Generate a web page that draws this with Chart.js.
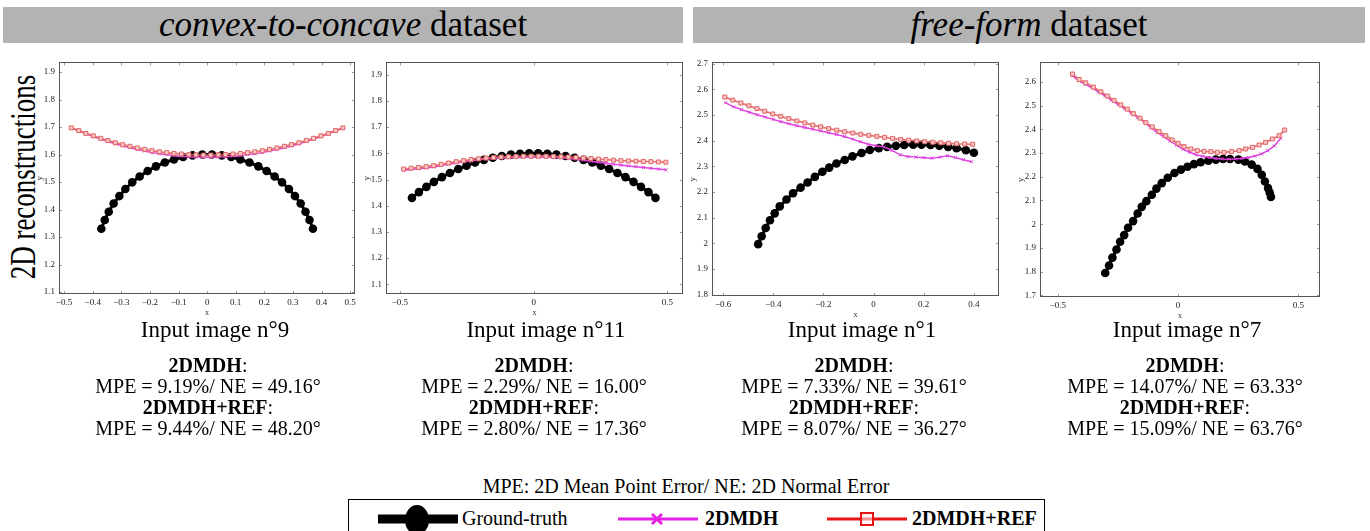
<!DOCTYPE html>
<html>
<head>
<meta charset="utf-8">
<script src="https://cdn.jsdelivr.net/npm/chart.js@4.4.1/dist/chart.umd.min.js"></script>
<style>
  html, body { margin:0; padding:0; background:#fff; }
  body { width:1370px; height:531px; position:relative; overflow:hidden; font-family:'Liberation Serif','Times New Roman',serif; color:#000; }
  .bar { position:absolute; background:#b3b3b3; }
  .t { position:absolute; text-align:center; white-space:nowrap; }
  canvas { position:absolute; }
</style>
</head>
<body>
<script>
// ---------------- DATA ----------------
// Panel 1: convex-to-concave, input image n°9
const p1TruthX = [-0.370,-0.358,-0.344,-0.327,-0.307,-0.286,-0.262,-0.236,-0.208,-0.179,-0.148,-0.116,-0.084,-0.051,-0.017,0.017,0.051,0.084,0.116,0.148,0.179,0.208,0.236,0.262,0.286,0.307,0.327,0.344,0.358,0.370];
const p1TruthY = [1.330,1.362,1.392,1.422,1.449,1.475,1.499,1.520,1.540,1.557,1.571,1.582,1.591,1.597,1.600,1.600,1.597,1.591,1.582,1.571,1.557,1.540,1.520,1.499,1.475,1.449,1.422,1.392,1.362,1.330];
const p1RecX = [-0.475,-0.449,-0.424,-0.398,-0.372,-0.347,-0.321,-0.295,-0.270,-0.244,-0.218,-0.193,-0.167,-0.141,-0.116,-0.090,-0.064,-0.039,-0.013,0.013,0.039,0.064,0.090,0.116,0.141,0.167,0.193,0.218,0.244,0.270,0.295,0.321,0.347,0.372,0.398,0.424,0.449,0.475];
const p1RefY = [1.697,1.687,1.677,1.668,1.659,1.651,1.643,1.636,1.630,1.624,1.619,1.614,1.610,1.607,1.604,1.602,1.600,1.599,1.598,1.598,1.599,1.600,1.602,1.604,1.607,1.610,1.614,1.619,1.624,1.630,1.636,1.643,1.651,1.659,1.668,1.677,1.687,1.697];
const p1DmdhY = [1.696,1.686,1.675,1.665,1.656,1.647,1.639,1.631,1.625,1.618,1.613,1.607,1.603,1.600,1.596,1.594,1.592,1.591,1.590,1.590,1.591,1.592,1.594,1.596,1.600,1.603,1.607,1.613,1.618,1.625,1.631,1.639,1.647,1.656,1.665,1.675,1.686,1.696];
const p1XTicks = [-0.5,-0.4,-0.3,-0.2,-0.1,0,0.1,0.2,0.3,0.4,0.5];
const p1XLabels = ['\u22120.5','\u22120.4','\u22120.3','\u22120.2','\u22120.1','0','0.1','0.2','0.3','0.4','0.5'];
const p1YTicks = [1.1,1.2,1.3,1.4,1.5,1.6,1.7,1.8,1.9];
const p1YLabels = ['1.1','1.2','1.3','1.4','1.5','1.6','1.7','1.8','1.9'];

// Panel 2: convex-to-concave, input image n°11
const p2TruthX = [-0.455,-0.429,-0.401,-0.373,-0.343,-0.313,-0.282,-0.251,-0.219,-0.186,-0.153,-0.119,-0.085,-0.051,-0.017,0.017,0.051,0.085,0.119,0.153,0.186,0.219,0.251,0.282,0.313,0.343,0.373,0.401,0.429,0.455];
const p2TruthY = [1.430,1.452,1.472,1.491,1.509,1.525,1.540,1.553,1.565,1.575,1.583,1.590,1.595,1.598,1.600,1.600,1.598,1.595,1.590,1.583,1.575,1.565,1.553,1.540,1.525,1.509,1.491,1.472,1.452,1.430];
const p2RecX = [-0.486,-0.458,-0.430,-0.402,-0.374,-0.346,-0.318,-0.290,-0.262,-0.234,-0.206,-0.178,-0.150,-0.122,-0.094,-0.066,-0.038,-0.010,0.018,0.046,0.074,0.102,0.130,0.158,0.186,0.214,0.242,0.270,0.298,0.326,0.354,0.382,0.410,0.438,0.466,0.494];
const p2RefY = [1.540,1.543,1.546,1.549,1.553,1.558,1.563,1.568,1.572,1.576,1.579,1.582,1.584,1.586,1.587,1.588,1.589,1.589,1.589,1.589,1.588,1.587,1.586,1.584,1.582,1.580,1.578,1.576,1.574,1.572,1.571,1.570,1.569,1.568,1.567,1.566];
const p2DmdhY = [1.535,1.538,1.541,1.544,1.548,1.553,1.558,1.563,1.568,1.572,1.575,1.578,1.580,1.582,1.583,1.584,1.585,1.585,1.585,1.585,1.584,1.583,1.580,1.577,1.574,1.570,1.566,1.562,1.558,1.555,1.552,1.549,1.546,1.543,1.540,1.537];
const p2XTicks = [-0.5,0,0.5];
const p2XLabels = ['\u22120.5','0','0.5'];
const p2YTicks = [1.1,1.2,1.3,1.4,1.5,1.6,1.7,1.8,1.9];
const p2YLabels = ['1.1','1.2','1.3','1.4','1.5','1.6','1.7','1.8','1.9'];

// Panel 3: free-form, input image n°1
const p3TruthX = [-0.460,-0.446,-0.430,-0.413,-0.394,-0.374,-0.347,-0.321,-0.291,-0.263,-0.234,-0.204,-0.177,-0.148,-0.115,-0.084,-0.048,-0.015,0.021,0.054,0.089,0.122,0.158,0.191,0.227,0.262,0.297,0.331,0.368,0.400];
const p3TruthY = [1.997,2.028,2.060,2.090,2.117,2.144,2.171,2.195,2.217,2.237,2.259,2.279,2.295,2.311,2.325,2.339,2.352,2.364,2.371,2.376,2.380,2.383,2.384,2.384,2.383,2.380,2.376,2.371,2.363,2.353];
const p3RefX = [-0.593,-0.561,-0.529,-0.497,-0.465,-0.434,-0.402,-0.370,-0.338,-0.306,-0.274,-0.242,-0.211,-0.179,-0.147,-0.115,-0.083,-0.051,-0.019,0.013,0.044,0.076,0.108,0.140,0.172,0.204,0.236,0.268,0.299,0.331,0.363,0.395];
const p3RefY = [2.570,2.558,2.547,2.536,2.525,2.515,2.504,2.495,2.486,2.477,2.469,2.461,2.454,2.447,2.441,2.435,2.430,2.425,2.421,2.417,2.413,2.409,2.405,2.402,2.399,2.396,2.394,2.392,2.390,2.388,2.387,2.386];
const p3DmdhX = [-0.590,-0.558,-0.527,-0.495,-0.464,-0.432,-0.400,-0.369,-0.337,-0.306,-0.274,-0.242,-0.211,-0.179,-0.148,-0.116,-0.084,-0.053,-0.021,0.011,0.042,0.074,0.106,0.137,0.169,0.200,0.232,0.264,0.295,0.327,0.358,0.390];
const p3DmdhY = [2.548,2.532,2.521,2.511,2.501,2.492,2.483,2.474,2.466,2.458,2.451,2.445,2.438,2.431,2.424,2.416,2.406,2.396,2.386,2.380,2.376,2.362,2.345,2.338,2.336,2.334,2.332,2.336,2.341,2.334,2.326,2.318];
const p3XTicks = [-0.6,-0.4,-0.2,0,0.2,0.4];
const p3XLabels = ['\u22120.6','\u22120.4','\u22120.2','0','0.2','0.4'];
const p3YTicks = [1.8,1.9,2.0,2.1,2.2,2.3,2.4,2.5,2.6,2.7];
const p3YLabels = ['1.8','1.9','2','2.1','2.2','2.3','2.4','2.5','2.6','2.7'];

// Panel 4: free-form, input image n°7
const p4TruthX = [-0.303,-0.287,-0.273,-0.256,-0.241,-0.224,-0.208,-0.187,-0.168,-0.151,-0.132,-0.109,-0.090,-0.068,-0.043,-0.015,0.012,0.039,0.066,0.094,0.126,0.157,0.187,0.216,0.251,0.278,0.306,0.330,0.348,0.361,0.374,0.381,0.386];
const p4TruthY = [1.794,1.826,1.859,1.893,1.926,1.954,1.985,2.013,2.045,2.073,2.097,2.124,2.150,2.173,2.196,2.216,2.230,2.242,2.253,2.261,2.268,2.272,2.275,2.275,2.272,2.264,2.251,2.233,2.208,2.180,2.152,2.133,2.115];
const p4RefX = [-0.439,-0.411,-0.384,-0.352,-0.321,-0.294,-0.266,-0.238,-0.211,-0.186,-0.158,-0.134,-0.107,-0.079,-0.051,-0.024,0.000,0.025,0.053,0.080,0.108,0.136,0.163,0.191,0.222,0.254,0.281,0.309,0.337,0.364,0.392,0.420,0.443];
const p4RefY = [2.633,2.610,2.596,2.578,2.558,2.540,2.522,2.503,2.485,2.466,2.447,2.428,2.410,2.391,2.373,2.355,2.341,2.327,2.317,2.310,2.307,2.306,2.303,2.303,2.306,2.310,2.317,2.324,2.334,2.345,2.359,2.373,2.397];
const p4DmdhX = [-0.439,-0.412,-0.385,-0.358,-0.331,-0.304,-0.277,-0.250,-0.222,-0.195,-0.168,-0.141,-0.114,-0.087,-0.060,-0.033,-0.006,0.021,0.048,0.075,0.102,0.130,0.157,0.184,0.211,0.238,0.265,0.292,0.319,0.346,0.373,0.400,0.427];
const p4DmdhY = [2.625,2.604,2.590,2.575,2.558,2.541,2.523,2.505,2.487,2.469,2.450,2.432,2.407,2.387,2.369,2.350,2.333,2.316,2.303,2.293,2.286,2.281,2.277,2.275,2.274,2.275,2.277,2.281,2.287,2.296,2.310,2.330,2.362];
const p4XTicks = [-0.5,0,0.5];
const p4XLabels = ['\u22120.5','0','0.5'];
const p4YTicks = [1.7,1.8,1.9,2.0,2.1,2.2,2.3,2.4,2.5,2.6];
const p4YLabels = ['1.7','1.8','1.9','2','2.1','2.2','2.3','2.4','2.5','2.6'];

const seriesNames = ['Ground-truth', '2DMDH', '2DMDH+REF'];
const datasetTitles = ['convex-to-concave', 'free-form'];
const imageNames = ['Input image n\u00b09', 'Input image n\u00b011', 'Input image n\u00b01', 'Input image n\u00b07'];
const dmdhMPE = ['9.19%', '2.29%', '7.33%', '14.07%'];
const dmdhNE  = ['49.16\u00b0', '16.00\u00b0', '39.61\u00b0', '63.33\u00b0'];
const refMPE  = ['9.44%', '2.80%', '8.07%', '15.09%'];
const refNE   = ['48.20\u00b0', '17.36\u00b0', '36.27\u00b0', '63.76\u00b0'];

// ---------------- STYLE / LAYOUT ----------------
const FONT = "'Liberation Serif','Times New Roman',serif";
const pts = (xs, ys) => xs.map((x, i) => ({x, y: ys[i]}));

const boxTicks = {
  id: 'boxTicks',
  afterDatasetsDraw(chart) {
    const {ctx, chartArea: a, scales: {x, y}} = chart;
    ctx.save();
    ctx.strokeStyle = '#9a9a9a';
    ctx.lineWidth = 1;
    ctx.beginPath();
    x.ticks.forEach(t => {
      const px = Math.round(x.getPixelForValue(t.value)) + 0.5;
      ctx.moveTo(px, a.bottom); ctx.lineTo(px, a.bottom - 3);
      ctx.moveTo(px, a.top); ctx.lineTo(px, a.top + 3);
    });
    y.ticks.forEach(t => {
      const py = Math.round(y.getPixelForValue(t.value)) + 0.5;
      ctx.moveTo(a.left, py); ctx.lineTo(a.left + 3, py);
      ctx.moveTo(a.right, py); ctx.lineTo(a.right - 3, py);
    });
    ctx.stroke();
    ctx.strokeStyle = '#555';
    ctx.strokeRect(Math.round(a.left) + 0.5, Math.round(a.top) + 0.5, Math.round(a.width) - 1, Math.round(a.height) - 1);
    ctx.restore();
  }
};

function makePanel(geo, xr, yr, xt, xl, yt, yl, truth, dmdh, ref) {
  const YW = 28, XH = 24, PT = 8, PR = 10;
  const c = document.createElement('canvas');
  const w = (geo.R - geo.L) + YW + PR;
  const h = (geo.B - geo.T) + PT + XH;
  c.width = w; c.height = h;
  c.style.left = (geo.L - YW) + 'px';
  c.style.top = (geo.T - PT) + 'px';
  c.style.width = w + 'px'; c.style.height = h + 'px';
  document.body.appendChild(c);
  const tickFont = {family: FONT, size: 9};
  new Chart(c, {
    type: 'scatter',
    data: {
      datasets: [
        { label: seriesNames[2], data: ref, showLine: true, borderColor: 'rgba(228,95,95,0.85)', borderWidth: 1.8,
          pointStyle: 'rect', pointRadius: 2.8, pointBorderColor: 'rgb(226,100,100)', pointBackgroundColor: 'rgb(250,200,200)', pointBorderWidth: 1 },
        { label: seriesNames[1], data: dmdh, showLine: true, borderColor: 'rgb(226,70,226)', borderWidth: 1.5,
          pointStyle: 'crossRot', pointRadius: 2.2, pointBorderColor: 'rgb(215,60,215)', pointBorderWidth: 1 },
        { label: seriesNames[0], data: truth, showLine: true, borderColor: '#000', borderWidth: 3,
          pointStyle: 'circle', pointRadius: 4.3, pointBackgroundColor: '#000', pointBorderColor: '#000', pointBorderWidth: 0 }
      ]
    },
    options: {
      responsive: false, animation: false, devicePixelRatio: 1,
      layout: { padding: { top: PT, right: PR, left: 0, bottom: 0 } },
      plugins: { legend: { display: false }, tooltip: { enabled: false } },
      elements: { line: { tension: 0 } },
      scales: {
        x: {
          type: 'linear', min: xr[0], max: xr[1],
          afterBuildTicks: s => { s.ticks = xt.map(v => ({value: v})); },
          afterFit: s => { s.height = XH; },
          ticks: { callback: (v, i) => xl[i], font: tickFont, color: '#222', padding: 3, maxRotation: 0, autoSkip: false },
          grid: { display: false, drawTicks: false }, border: { display: false },
          title: { display: true, text: 'x', font: {family: FONT, size: 8}, color: '#333', padding: {top: 0, bottom: 0} }
        },
        y: {
          type: 'linear', min: yr[0], max: yr[1],
          afterBuildTicks: s => { s.ticks = yt.map(v => ({value: v})); },
          afterFit: s => { s.width = YW; },
          ticks: { callback: (v, i) => yl[i], font: tickFont, color: '#222', padding: 4, autoSkip: false },
          grid: { display: false, drawTicks: false }, border: { display: false },
          title: { display: true, text: 'y', font: {family: FONT, size: 9}, color: '#333', padding: {top: 3, bottom: 0} }
        }
      }
    },
    plugins: [boxTicks]
  });
}

function addDiv(cls, styleObj, html) {
  const d = document.createElement('div');
  d.className = cls;
  Object.assign(d.style, styleObj);
  d.innerHTML = html;
  document.body.appendChild(d);
  return d;
}

// header bars
addDiv('bar', {left:'3px', top:'7px', width:'680px', height:'36px'}, '');
addDiv('bar', {left:'693px', top:'7px', width:'672px', height:'36px'}, '');
addDiv('t', {left:'43px', top:'7px', width:'600px', height:'36px', lineHeight:'36px', fontSize:'35px'},
  '<i>' + datasetTitles[0] + '</i> dataset');
addDiv('t', {left:'729px', top:'7px', width:'600px', height:'36px', lineHeight:'36px', fontSize:'35px'},
  '<i>' + datasetTitles[1] + '</i> dataset');

// rotated row label
addDiv('t', {left:'-127px', top:'160px', width:'300px', height:'34px', lineHeight:'34px', fontSize:'36px',
  transform:'rotate(-90deg) scaleX(0.75)', transformOrigin:'150px 17px'}, '2D reconstructions');

// panels
makePanel({L:59, T:61, R:355, B:294}, [-0.518, 0.517], [1.093, 1.935], p1XTicks, p1XLabels, p1YTicks, p1YLabels,
  pts(p1TruthX, p1TruthY), pts(p1RecX, p1DmdhY), pts(p1RecX, p1RefY));
makePanel({L:386, T:61, R:683, B:294}, [-0.552, 0.558], [1.063, 1.947], p2XTicks, p2XLabels, p2YTicks, p2YLabels,
  pts(p2TruthX, p2TruthY), pts(p2RecX, p2DmdhY), pts(p2RecX, p2RefY));
makePanel({L:712, T:61, R:999, B:296}, [-0.644, 0.50], [1.795, 2.705], p3XTicks, p3XLabels, p3YTicks, p3YLabels,
  pts(p3TruthX, p3TruthY), pts(p3DmdhX, p3DmdhY), pts(p3RefX, p3RefY));
makePanel({L:1040, T:61, R:1320, B:297}, [-0.574, 0.59], [1.693, 2.682], p4XTicks, p4XLabels, p4YTicks, p4YLabels,
  pts(p4TruthX, p4TruthY), pts(p4DmdhX, p4DmdhY), pts(p4RefX, p4RefY));

// captions and error texts
const titleCX = [215, 546, 862, 1187];
const statCX = [208, 534, 854, 1185];
for (let i = 0; i < 4; i++) {
  addDiv('t', {left:(titleCX[i]-200)+'px', top:'317px', width:'400px', lineHeight:'26px', fontSize:'23px'}, imageNames[i]);
  const lines = [
    '<b>' + seriesNames[1] + '</b>:',
    'MPE = ' + dmdhMPE[i] + '/ NE = ' + dmdhNE[i],
    '<b>' + seriesNames[2] + '</b>:',
    'MPE = ' + refMPE[i] + '/ NE = ' + refNE[i]
  ];
  addDiv('t', {left:(statCX[i]-200)+'px', top:'355px', width:'400px', lineHeight:'21px', fontSize:'20px'}, lines.join('<br>'));
}

addDiv('t', {left:'386px', top:'475px', width:'600px', lineHeight:'22px', fontSize:'20px'},
  'MPE: 2D Mean Point Error/ NE: 2D Normal Error');

// legend
addDiv('', {position:'absolute', left:'348px', top:'499px', width:'697px', height:'40px', border:'1px solid #000', boxSizing:'border-box'}, '');
addDiv('', {position:'absolute', left:'376px', top:'505px', width:'90px', height:'30px'},
  '<svg width="90" height="30"><line x1="2" y1="14" x2="82" y2="14" stroke="#000" stroke-width="9"/><ellipse cx="41" cy="15" rx="12" ry="15" fill="#000"/></svg>');
addDiv('t', {left:'462px', top:'507px', lineHeight:'22px', fontSize:'20px', textAlign:'left'}, seriesNames[0]);
addDiv('', {position:'absolute', left:'616px', top:'505px', width:'90px', height:'30px'},
  '<svg width="90" height="30"><line x1="2" y1="14" x2="82" y2="14" stroke="rgb(230,30,230)" stroke-width="3"/><path d="M36 9 L46 19 M46 9 L36 19" stroke="rgb(230,30,230)" stroke-width="3"/></svg>');
addDiv('t', {left:'705px', top:'507px', lineHeight:'22px', fontSize:'20px', fontWeight:'bold', textAlign:'left'}, seriesNames[1]);
addDiv('', {position:'absolute', left:'825px', top:'505px', width:'90px', height:'30px'},
  '<svg width="90" height="30"><line x1="2" y1="14" x2="82" y2="14" stroke="rgb(230,20,20)" stroke-width="3"/><rect x="36" y="8" width="12" height="12" fill="rgba(255,235,235,0.6)" stroke="rgb(230,20,20)" stroke-width="2"/></svg>');
addDiv('t', {left:'912px', top:'507px', lineHeight:'22px', fontSize:'20px', fontWeight:'bold', textAlign:'left'}, seriesNames[2]);
</script>
</body>
</html>
